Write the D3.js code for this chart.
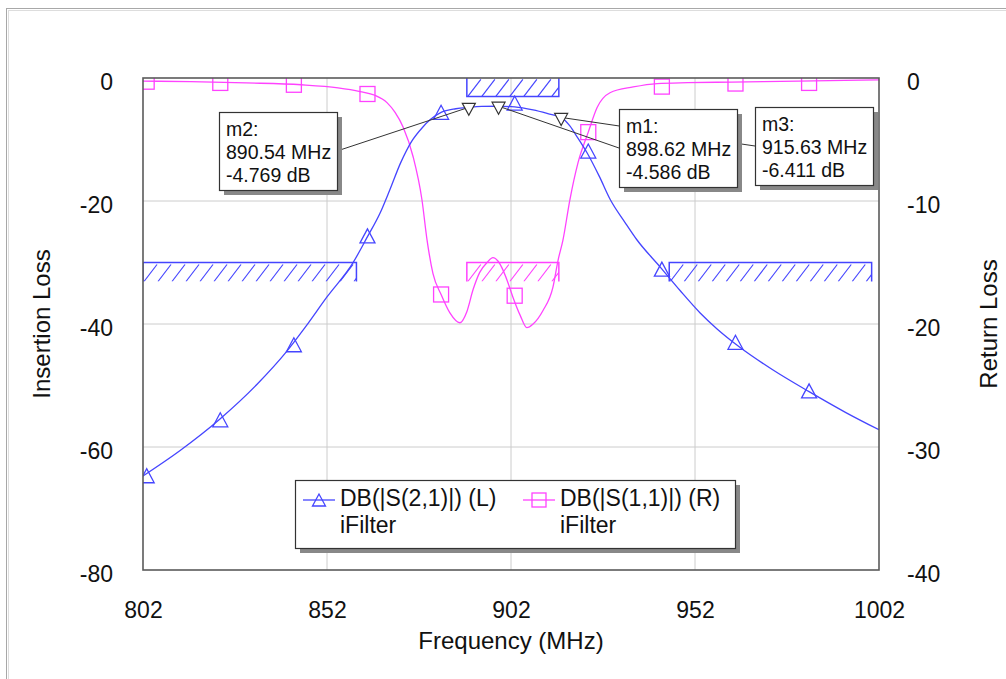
<!DOCTYPE html>
<meta charset="utf-8">
<style>
body { margin: 0; background: #fff; }
text { font-family: "Liberation Sans", Arial, sans-serif; fill: #111; }
.grid line { stroke: #cccccc; stroke-width: 1px; }
</style>
<body>
<script src="https://d3js.org/d3.v7.min.js"></script>
<script>

// axis ticks
var freqTicks = [802, 852, 902, 952, 1002];
var ilTicks = [0, -20, -40, -60, -80];
var rlTicks = [0, -10, -20, -30, -40];

// DB(|S(2,1)|), left axis
var s21Freq = [802, 812, 823, 833, 841, 846, 852, 859, 863, 866.4, 869, 872, 875, 878, 880, 883, 887, 890.5, 894, 898.6, 903, 908, 912, 915.6, 918, 920, 922.7, 926, 929, 933, 936.2, 942.5, 948, 953.4, 958, 964, 973, 983, 993, 1002];
var s21Db   = [-64.7, -60.6, -55.4, -49.8, -44.5, -40.6, -35.6, -30.1, -25.8, -22.0, -18.3, -13.8, -10.3, -8.0, -6.8, -5.6, -5.0, -4.77, -4.62, -4.59, -4.7, -5.2, -5.8, -6.41, -7.8, -9.6, -12.2, -16.0, -19.8, -23.5, -26.3, -30.7, -34.6, -38.2, -40.8, -43.7, -47.4, -51.0, -54.4, -57.2];

// DB(|S(1,1)|), right axis
var s11Freq = [802, 815, 830, 845, 855, 861, 865, 868.3, 870.5, 872.7, 875.4, 877.8, 879.2, 880.8, 883, 885.4, 888.1, 890, 891.7, 893.5, 895.5, 897.1, 898.5, 899.8, 901, 902.5, 904.5, 906.3, 908, 910.7, 913.4, 914.8, 916.1, 918, 920.2, 923, 925.4, 928.9, 935.2, 941.7, 950, 962, 980, 1002];
var s11Db   = [-0.25, -0.3, -0.4, -0.55, -0.8, -1.1, -1.4, -2.0, -2.8, -4.0, -6.4, -9.9, -13.2, -15.9, -17.6, -19.1, -19.9, -19.0, -17.2, -15.8, -15.0, -14.6, -14.9, -15.6, -16.5, -17.8, -19.3, -20.3, -20.0, -18.9, -17.0, -14.8, -13.2, -9.9, -6.9, -4.4, -2.4, -1.2, -0.73, -0.45, -0.38, -0.33, -0.25, -0.16];

// trace symbols
var symFreq = [803, 823, 843, 863, 883, 903, 923, 943, 963, 983];
var s21Sym  = [-65.0, -55.9, -43.7, -26.0, -5.9, -4.4, -12.2, -31.4, -43.3, -51.2];
var s11Sym  = [-0.3, -0.4, -0.55, -1.3, -17.6, -17.7, -4.4, -0.7, -0.45, -0.4];

// markers
var markName = ["m1", "m2", "m3"];
var markFreq = [898.62, 890.54, 915.63];
var markDb   = [-4.586, -4.769, -6.411];

// optimisation goals
var goalStart = [890, 802, 945, 890];
var goalEnd   = [915, 860, 1000, 915];
var goalLevel = [-3, -30, -30, -15];
var goalType  = [">", "<", "<", "<"];
var goalTrace = ["s21", "s21", "s21", "s11"];

var legendNames = ["DB(|S(2,1)|) (L)", "DB(|S(1,1)|) (R)"];
var legendSource = ["iFilter", "iFilter"];

var blue = "#4545ff", pink = "#ff42ff";
var W = 1006, H = 679;
var pLeft = 143, pRight = 879, pTop = 78, pBot = 570;

// label box placement
var boxPos = { m1: [619, 109], m2: [219, 112], m3: [755, 107] };
var boxW = 118, boxH = 78;

var svg = d3.select("body").append("svg")
    .attr("width", W)
    .attr("height", H);

// outer frame
svg.append("rect")
    .attr("x", 6.5).attr("y", 8.5)
    .attr("width", W + 10).attr("height", H + 10)
    .attr("fill", "none").attr("stroke", "#a8a8a8").attr("stroke-width", 1);
svg.append("rect")
    .attr("x", 8.5).attr("y", 10.5)
    .attr("width", W + 10).attr("height", H + 10)
    .attr("fill", "none").attr("stroke", "#dddddd").attr("stroke-width", 1);

var x = d3.scaleLinear().domain([802, 1002]).range([pLeft, pRight]);
var yL = d3.scaleLinear().domain([-80, 0]).range([pBot, pTop]);
var yR = d3.scaleLinear().domain([-40, 0]).range([pBot, pTop]);

// grid
var grid = svg.append("g").attr("class", "grid");
grid.selectAll(".vx")
    .data(freqTicks.slice(1, -1))
    .enter().append("line")
    .attr("x1", function(d) { return x(d); })
    .attr("x2", function(d) { return x(d); })
    .attr("y1", pTop).attr("y2", pBot);
grid.selectAll(".hy")
    .data(ilTicks.slice(1, -1))
    .enter().append("line")
    .attr("x1", pLeft).attr("x2", pRight)
    .attr("y1", function(d) { return yL(d); })
    .attr("y2", function(d) { return yL(d); });

// axes (plain hyphen minus like the original)
var plain = function(d) { return String(d); };
var xAxis = svg.append("g")
    .attr("transform", "translate(0," + pBot + ")")
    .call(d3.axisBottom(x).tickValues(freqTicks).tickSize(0).tickPadding(32).tickFormat(plain));
var lAxis = svg.append("g")
    .attr("transform", "translate(" + pLeft + ",0)")
    .call(d3.axisLeft(yL).tickValues(ilTicks).tickSize(0).tickPadding(30).tickFormat(plain));
var rAxis = svg.append("g")
    .attr("transform", "translate(" + pRight + ",0)")
    .call(d3.axisRight(yR).tickValues(rlTicks).tickSize(0).tickPadding(28).tickFormat(plain));

[xAxis, lAxis, rAxis].forEach(function(a) {
    a.select(".domain").remove();
    a.selectAll("text")
        .style("font-size", "23px")
        .style("font-family", "'Liberation Sans', Arial, sans-serif")
        .attr("fill", "#111");
});
lAxis.selectAll("text").attr("dy", "0.5em");
rAxis.selectAll("text").attr("dy", "0.5em");

svg.append("text")
    .attr("x", (pLeft + pRight) / 2).attr("y", 649)
    .attr("text-anchor", "middle")
    .style("font-size", "24px")
    .text("Frequency (MHz)");
svg.append("text")
    .attr("transform", "translate(50," + (pTop + pBot) / 2 + ") rotate(-90)")
    .attr("text-anchor", "middle")
    .style("font-size", "24px")
    .text("Insertion Loss");
svg.append("text")
    .attr("transform", "translate(997," + (pTop + pBot) / 2 + ") rotate(-90)")
    .attr("text-anchor", "middle")
    .style("font-size", "24px")
    .text("Return Loss");

svg.append("defs").append("clipPath")
    .attr("id", "plotclip")
    .append("rect")
    .attr("x", pLeft).attr("y", pTop)
    .attr("width", pRight - pLeft).attr("height", pBot - pTop);

var plot = svg.append("g").attr("clip-path", "url(#plotclip)");

// goals (hatched bands)
var band = 19;
goalStart.forEach(function(f0, i) {
    var ys = goalTrace[i] == "s21" ? yL : yR;
    var col = goalTrace[i] == "s21" ? blue : pink;
    var x0 = x(f0), x1 = x(goalEnd[i]);
    var yl = ys(goalLevel[i]);
    var yOther = goalType[i] == ">" ? yl - band : yl + band;
    var yTop = Math.min(yl, yOther), yBot = Math.max(yl, yOther);
    var g = plot.append("g").attr("stroke", col).attr("stroke-width", 1.2).attr("fill", "none");

    g.append("clipPath").attr("id", "hc" + i)
        .append("rect").attr("x", x0).attr("y", yTop).attr("width", x1 - x0).attr("height", yBot - yTop);
    var h = g.append("g").attr("clip-path", "url(#hc" + i + ")");
    for (var hx = x0 + 1; hx < x1; hx += 14) {
        h.append("line")
            .attr("x1", hx).attr("y1", yBot)
            .attr("x2", hx + 13).attr("y2", yTop + 2);
    }
    g.append("path")
        .attr("stroke-width", 1.5)
        .attr("d", "M" + x0 + "," + yOther + "V" + yl + "H" + x1 + "V" + yOther);
});

// traces
var lineL = d3.line()
    .x(function(d) { return x(d[0]); })
    .y(function(d) { return yL(d[1]); })
    .curve(d3.curveMonotoneX);
var lineR = d3.line()
    .x(function(d) { return x(d[0]); })
    .y(function(d) { return yR(d[1]); })
    .curve(d3.curveMonotoneX);

plot.append("path")
    .datum(d3.zip(s11Freq, s11Db))
    .attr("fill", "none").attr("stroke", pink).attr("stroke-width", 1.3)
    .attr("d", lineR);
plot.append("path")
    .datum(d3.zip(s21Freq, s21Db))
    .attr("fill", "none").attr("stroke", blue).attr("stroke-width", 1.3)
    .attr("d", lineL);

var triPath = "M0,-9L-7.5,5L7.5,5Z";

plot.selectAll(".sq")
    .data(d3.zip(symFreq, s11Sym))
    .enter().append("rect")
    .attr("x", function(d) { return x(d[0]) - 7.5; })
    .attr("y", function(d) { return yR(d[1]) - 7.5; })
    .attr("width", 15).attr("height", 15)
    .attr("fill", "none").attr("stroke", pink).attr("stroke-width", 1.3);

plot.selectAll(".tri")
    .data(d3.zip(symFreq, s21Sym))
    .enter().append("path")
    .attr("transform", function(d) { return "translate(" + x(d[0]) + "," + yL(d[1]) + ")"; })
    .attr("d", triPath)
    .attr("fill", "none").attr("stroke", blue).attr("stroke-width", 1.3);

// plot frame
svg.append("rect")
    .attr("x", pLeft).attr("y", pTop)
    .attr("width", pRight - pLeft).attr("height", pBot - pTop)
    .attr("fill", "none").attr("stroke", "#5a5a5a").attr("stroke-width", 1.6);

// markers: leader lines, symbols, labels
var marks = svg.append("g");
markName.forEach(function(m, i) {
    var px = x(markFreq[i]), py = yL(markDb[i]);
    var b = boxPos[m];
    var ax = (b[0] > px) ? b[0] : b[0] + boxW;
    marks.append("line")
        .attr("x1", ax).attr("y1", b[1] + boxH / 2)
        .attr("x2", px).attr("y2", py)
        .attr("stroke", "#333").attr("stroke-width", 1);
    marks.append("path")
        .attr("transform", "translate(" + px + "," + py + ")")
        .attr("d", "M-6.5,-4L6.5,-4L0,8Z")
        .attr("fill", "#fff").attr("stroke", "#333").attr("stroke-width", 1.2);
});
markName.forEach(function(m, i) {
    var b = boxPos[m];
    var g = marks.append("g").attr("transform", "translate(" + b[0] + "," + b[1] + ")");
    g.append("rect")
        .attr("x", 5).attr("y", 5).attr("width", boxW).attr("height", boxH)
        .attr("fill", "#888");
    g.append("rect")
        .attr("x", 0.5).attr("y", 0.5).attr("width", boxW).attr("height", boxH)
        .attr("fill", "#fff").attr("stroke", "#333").attr("stroke-width", 1.2);
    var lines = [m + ":", markFreq[i].toFixed(2) + " MHz", markDb[i].toFixed(3) + " dB"];
    g.selectAll("text")
        .data(lines)
        .enter().append("text")
        .attr("x", 7)
        .attr("y", function(d, j) { return 24 + j * 23; })
        .style("font-size", "19.5px")
        .text(function(d) { return d; });
});

// legend
var leg = svg.append("g").attr("transform", "translate(295,480)");
leg.append("rect")
    .attr("x", 5).attr("y", 5).attr("width", 440).attr("height", 68)
    .attr("fill", "#888");
leg.append("rect")
    .attr("x", 0.5).attr("y", 0.5).attr("width", 440).attr("height", 68)
    .attr("fill", "#fff").attr("stroke", "#333").attr("stroke-width", 1.2);

var legCols = [blue, pink];
legendNames.forEach(function(n, i) {
    var lx = i * 220;
    var c = legCols[i];
    leg.append("line")
        .attr("x1", lx + 8).attr("x2", lx + 40)
        .attr("y1", 20).attr("y2", 20)
        .attr("stroke", c).attr("stroke-width", 1.3);
    if (i == 0) {
        leg.append("path")
            .attr("transform", "translate(" + (lx + 24) + ",22)")
            .attr("d", "M0,-8L-6.5,4L6.5,4Z")
            .attr("fill", "none").attr("stroke", c).attr("stroke-width", 1.3);
    } else {
        leg.append("rect")
            .attr("x", lx + 17).attr("y", 13).attr("width", 14).attr("height", 14)
            .attr("fill", "none").attr("stroke", c).attr("stroke-width", 1.3);
    }
    leg.append("text")
        .attr("x", lx + 45).attr("y", 26)
        .style("font-size", "23px")
        .text(n);
    leg.append("text")
        .attr("x", lx + 45).attr("y", 53)
        .style("font-size", "23px")
        .text(legendSource[i]);
});

</script>
</body>
